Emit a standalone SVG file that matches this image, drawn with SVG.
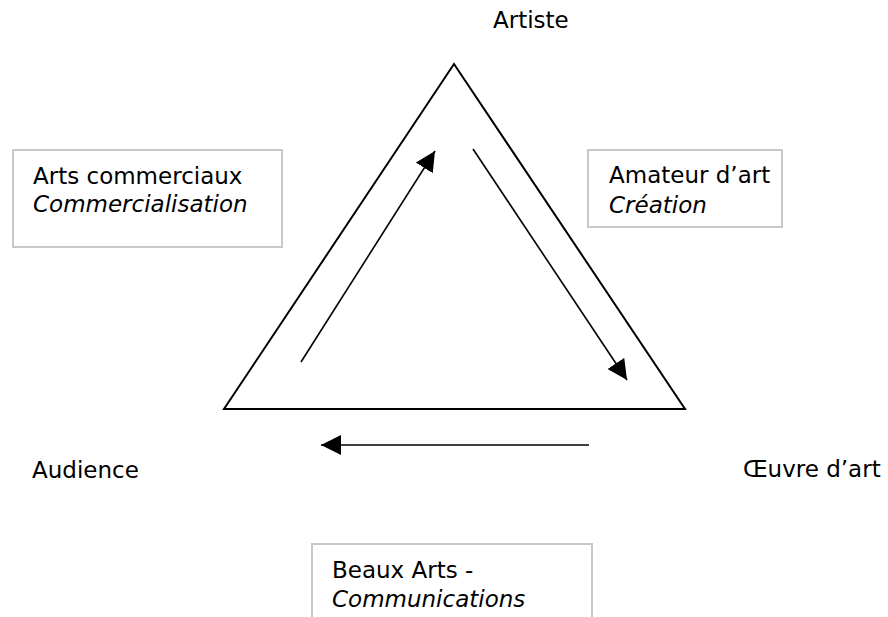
<svg xmlns="http://www.w3.org/2000/svg" width="888" height="617" viewBox="0 0 888 617">
<style>
text{font-family:"DejaVu Sans","Verdana",sans-serif;font-size:23px;fill:#000}
.it{font-style:italic}
.box{fill:#fff;stroke:#c8c8c8;stroke-width:2}
.conn{stroke:#000;stroke-width:1.6;fill:none}
</style>
<defs>
<marker id="ah" markerUnits="userSpaceOnUse" markerWidth="20" markerHeight="20" refX="20" refY="10" orient="auto" viewBox="0 0 20 20">
<path d="M0,0 L20,10 L0,20 z" fill="#000"/>
</marker>
</defs>
<rect width="888" height="617" fill="#fff"/>
<g id="triangle">
<polygon points="454,64 224,409 685,409" fill="none" stroke="#000" stroke-width="2"/>
</g>
<g id="connectors">
<line class="conn" x1="301" y1="362" x2="435" y2="151" marker-end="url(#ah)"/>
<line class="conn" x1="473" y1="149" x2="627" y2="380" marker-end="url(#ah)"/>
<line class="conn" x1="589" y1="445" x2="321" y2="445" marker-end="url(#ah)"/>
</g>
<g id="artiste"><text x="493" y="28">Artiste</text></g>
<g id="audience"><text x="32" y="478">Audience</text></g>
<g id="oeuvre"><text x="743" y="477">Œuvre d’art</text></g>
<g id="arts-commerciaux">
<rect class="box" x="13" y="150" width="269" height="97"/>
<text x="33" y="184">Arts commerciaux</text>
<text class="it" x="33" y="212">Commercialisation</text>
</g>
<g id="amateur">
<rect class="box" x="588" y="150" width="194" height="77"/>
<text x="609" y="183">Amateur d’art</text>
<text class="it" x="609" y="213">Création</text>
</g>
<g id="beaux-arts">
<rect class="box" x="312" y="544" width="280" height="90"/>
<text x="332" y="578">Beaux Arts -</text>
<text class="it" x="332" y="607">Communications</text>
</g>
</svg>
